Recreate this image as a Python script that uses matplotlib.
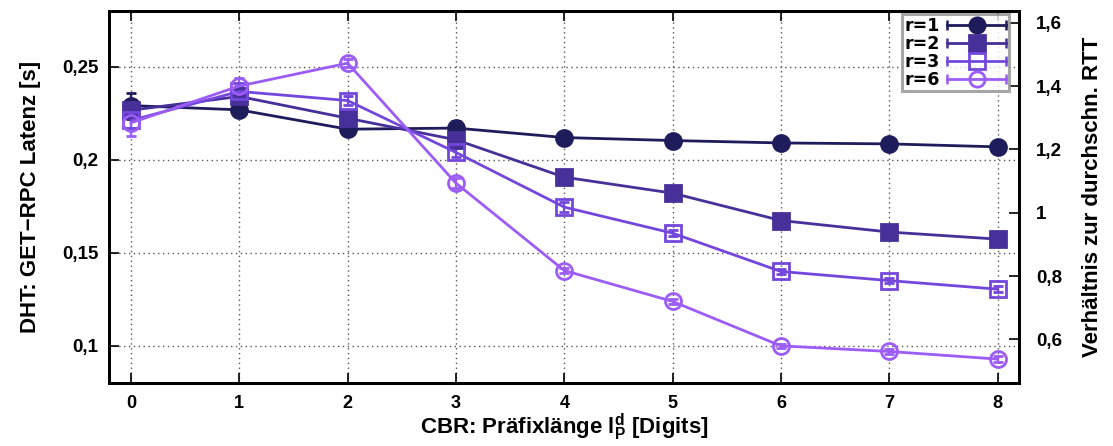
import matplotlib
matplotlib.use("Agg")
import matplotlib.pyplot as plt
from matplotlib.lines import Line2D
from matplotlib.legend_handler import HandlerLine2D, HandlerTuple
from matplotlib.ticker import FuncFormatter, FixedLocator
from matplotlib import font_manager

# ---- data -------------------------------------------------------------
prefix_len = [0, 1, 2, 3, 4, 5, 6, 7, 8]

lat_r1 = [0.2290, 0.2267, 0.2163, 0.2169, 0.2118, 0.2102, 0.2089, 0.2084, 0.2068]
lat_r2 = [0.2265, 0.2339, 0.2222, 0.2106, 0.1905, 0.1819, 0.1672, 0.1610, 0.1572]
lat_r3 = [0.2210, 0.2366, 0.2317, 0.2038, 0.1744, 0.1604, 0.1398, 0.1349, 0.1303]
lat_r6 = [0.2197, 0.2395, 0.2518, 0.1873, 0.1403, 0.1237, 0.0998, 0.0968, 0.0927]

err_r1 = [0.0070, 0.0030, 0.0020, 0.0040, 0.0015, 0.0015, 0.0012, 0.0012, 0.0012]
err_r2 = [0.0040, 0.0035, 0.0030, 0.0030, 0.0030, 0.0015, 0.0012, 0.0012, 0.0015]
err_r3 = [0.0040, 0.0030, 0.0025, 0.0025, 0.0025, 0.0015, 0.0015, 0.0015, 0.0015]
err_r6 = [0.0070, 0.0045, 0.0020, 0.0025, 0.0015, 0.0015, 0.0012, 0.0012, 0.0015]

labels = ["r=1", "r=2", "r=3", "r=6"]

# ---- fonts ------------------------------------------------------------
available = {f.name for f in font_manager.fontManager.ttflist}
narrow = "Liberation Sans Narrow" if "Liberation Sans Narrow" in available else "Liberation Sans"
plt.rcParams["font.family"] = ["Liberation Sans", "DejaVu Sans"]
plt.rcParams["font.weight"] = "bold"
plt.rcParams["mathtext.fontset"] = "custom"
plt.rcParams["mathtext.rm"] = f"{narrow}:bold"
plt.rcParams["mathtext.it"] = f"{narrow}:bold"
plt.rcParams["mathtext.bf"] = f"{narrow}:bold"

# ---- figure -----------------------------------------------------------
fig = plt.figure(figsize=(11.13, 4.46), dpi=100)
ax = fig.add_axes([0.0982, 0.1419, 0.8176, 0.8341])

colors = ["#1f1c5c", "#47309a", "#7447dc", "#9c5cf6"]
series = [lat_r1, lat_r2, lat_r3, lat_r6]
errors = [err_r1, err_r2, err_r3, err_r6]
markers = ["o", "s", "s", "o"]
filled = [True, True, False, False]

handles = []
hmap = {}
for vals, errs, col, mk, fill, lab in zip(series, errors, colors, markers, filled, labels):
    ax.errorbar(prefix_len, vals, yerr=errs, color=col, lw=2.0,
                marker=mk, markersize=11.5,
                markerfacecolor=col if fill else "none",
                markeredgecolor=col, markeredgewidth=2.0,
                ecolor=col, elinewidth=1.6, capsize=3.5, capthick=1.6,
                zorder=3)
    # legend sample: horizontal bar with end caps, marker in the middle
    cap = Line2D([], [], color=col, lw=2.0, marker="|", markersize=7,
                 markeredgewidth=1.8)
    mark = Line2D([], [], color=col, lw=0, marker=mk, markersize=11,
                  markerfacecolor=col if fill else "none",
                  markeredgecolor=col, markeredgewidth=2.0)
    hmap[cap] = HandlerLine2D(numpoints=2, marker_pad=0.0)
    hmap[mark] = HandlerLine2D(numpoints=1)
    handles.append((cap, mark))
hmap[tuple] = HandlerTuple(ndivide=1, pad=0.0)

# ---- axes styling -----------------------------------------------------
ax.set_xlim(-0.2, 8.2)
ax.set_ylim(0.08, 0.28)
ax.set_xticks(prefix_len)
ax.yaxis.set_major_locator(FixedLocator([0.10, 0.15, 0.20, 0.25]))


def comma(v, _pos):
    s = f"{v:.2f}".rstrip("0").rstrip(".")
    return s.replace(".", ",")


ax.yaxis.set_major_formatter(FuncFormatter(comma))
ax.grid(True, color="#555555", linestyle=(0, (1, 2.5)), linewidth=1.0, zorder=0)
ax.tick_params(axis="x", direction="in", length=7, width=1.2, top=True,
               labelsize=13, pad=9)
ax.tick_params(axis="y", direction="in", length=7, width=1.2, right=False,
               labelsize=13.5, pad=8)
for lab in ax.get_xticklabels():
    lab.set_fontfamily([narrow, "DejaVu Sans"])
    lab.set_fontweight("bold")
for sp in ax.spines.values():
    sp.set_linewidth(2.0)

ax.set_ylabel("DHT: GET\u2212RPC Latenz [s]", fontsize=16, fontweight="bold",
              labelpad=15)
ax.set_xlabel(r"CBR: Präfixlänge $\mathbf{l}_{\mathbf{P}}^{\mathbf{d}}$ [Digits]",
              fontsize=16, fontweight="bold", family=[narrow, "DejaVu Sans"],
              labelpad=0)

ax2 = ax.twinx()
ax2.set_ylim(0.463, 1.638)
ax2.yaxis.set_major_locator(FixedLocator([0.6, 0.8, 1.0, 1.2, 1.4, 1.6]))
ax2.yaxis.set_major_formatter(
    FuncFormatter(lambda v, p: f"{v:.1f}".rstrip("0").rstrip(".").replace(".", ",")))
ax2.tick_params(axis="y", direction="in", length=7, width=1.2, labelsize=13.5, pad=12)
for sp in ax2.spines.values():
    sp.set_linewidth(2.0)
ax2.set_ylabel("Verhältnis zur durchschn. RTT", fontsize=16, fontweight="bold",
               labelpad=14)

leg = ax2.legend(handles, labels, handler_map=hmap, loc="upper right",
                 bbox_to_anchor=(0.9885, 0.991), markerfirst=False,
                 prop={"family": "DejaVu Sans", "weight": "bold", "size": 12.5},
                 frameon=True, fancybox=False, handlelength=3.4,
                 handletextpad=0.4, borderpad=0.15, labelspacing=0.0,
                 borderaxespad=0.0)
leg.get_frame().set_edgecolor("#909090")
leg.get_frame().set_linewidth(2.2)

fig.savefig("out.png", dpi=100)
